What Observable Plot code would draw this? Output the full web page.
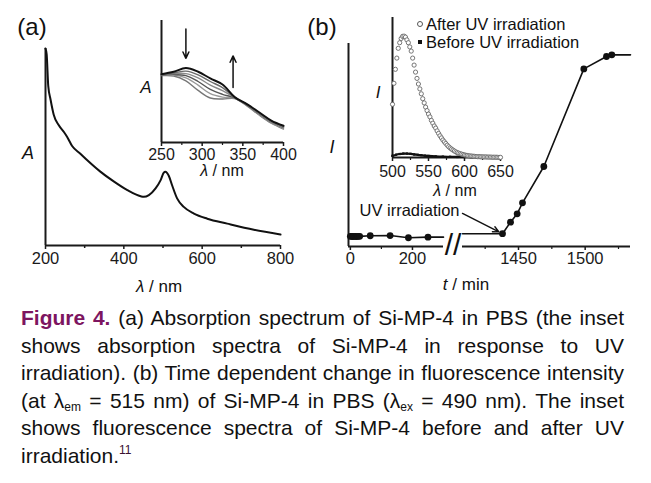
<!DOCTYPE html>
<html>
<head>
<meta charset="utf-8">
<script src="https://cdn.jsdelivr.net/npm/d3@7"></script>
<script src="https://cdn.jsdelivr.net/npm/@observablehq/plot@0.6"></script>
<style>
  html, body { margin: 0; padding: 0; background: #fff; }
  #root { position: relative; width: 651px; height: 483px; overflow: hidden; background: #fff;
          font-family: "Liberation Sans", Arial, sans-serif; color: #111; }
  .plot { position: absolute; }
  .plot svg { overflow: visible; }
  .lbl { position: absolute; transform: translate(-50%, -50%); white-space: nowrap; line-height: 1; color: #111; }
  .it { font-style: italic; }
  #legend { position: absolute; left: 415px; top: 15px; font-size: 16.5px; line-height: 18px; color: #111; }
  #legend .row { display: flex; align-items: center; white-space: nowrap; }
  .sym-c { display: inline-block; width: 4px; height: 4px; border: 1px solid #555; border-radius: 50%; margin: 0 3px 0 2px; }
  .sym-s { display: inline-block; width: 4px; height: 4px; background: #111; margin: 0 4px 0 3px; }
  #caption { position: absolute; left: 21px; top: 304px; width: 603px; font-size: 21px; line-height: 27.6px; color: #111; }
  #caption .ln { text-align: justify; text-align-last: justify; white-space: nowrap; }
  #caption .last { text-align: left; }
  #caption .fig { color: #7d1560; font-weight: bold; }
  #caption sub { font-size: 12px; line-height: 0; vertical-align: -3px; }
  #caption sup { font-size: 12px; line-height: 0; vertical-align: 9px; color: #3a1030; }
</style>
</head>
<body>
<div id="root">
  <div id="mainA" class="plot" style="left:0px; top:0px;"></div>
  <div id="insetA" class="plot" style="left:140px; top:10px;"></div>
  <div id="mainB" class="plot" style="left:300px; top:0px;"></div>
  <div id="insetB" class="plot" style="left:360px; top:5px;"></div>

  <div class="lbl" style="left:32px; top:27px; font-size:24px;">(a)</div>
  <div class="lbl" style="left:322px; top:27px; font-size:24px;">(b)</div>
  <div class="lbl it" style="left:28px; top:153px; font-size:18px;">A</div>
  <div class="lbl it" style="left:146px; top:87px; font-size:17px;">A</div>
  <div class="lbl" style="left:159px; top:286px; font-size:17px;"><span class="it">λ</span> / nm</div>
  <div class="lbl" style="left:222px; top:171px; font-size:16px;"><span class="it">λ</span> / nm</div>
  <div class="lbl it" style="left:332px; top:147px; font-size:18px;">I</div>
  <div class="lbl it" style="left:378px; top:92px; font-size:17px;">I</div>
  <div class="lbl" style="left:455px; top:191px; font-size:16px;"><span class="it">λ</span> / nm</div>
  <div class="lbl" style="left:466px; top:284px; font-size:17px;"><span class="it">t</span> / min</div>

  <div id="legend">
    <div class="row"><span class="sym-c"></span>After UV irradiation</div>
    <div class="row"><span class="sym-s"></span>Before UV irradiation</div>
  </div>

  <div id="caption">
    <div class="ln"><span class="fig">Figure 4.</span> (a) Absorption spectrum of Si-MP-4 in PBS (the inset</div>
    <div class="ln">shows absorption spectra of Si-MP-4 in response to UV</div>
    <div class="ln">irradiation). (b) Time dependent change in fluorescence intensity</div>
    <div class="ln">(at λ<sub>em</sub> = 515 nm) of Si-MP-4 in PBS (λ<sub>ex</sub> = 490 nm). The inset</div>
    <div class="ln">shows fluorescence spectra of Si-MP-4 before and after UV</div>
    <div class="last">irradiation.<sup>11</sup></div>
  </div>
</div>

<script>
// ---------- Panel (a): absorption spectrum ----------
const aWavelength = [200,203,207,213,221,234,247,255,268,289,306,340,375,409,443,451,464,481,494,502,506,515,523,536,553,579,613,664,732,800];
const aAbsorbance = [1.0,0.97,0.81,0.74,0.664,0.61,0.576,0.552,0.505,0.466,0.434,0.375,0.324,0.281,0.25,0.247,0.256,0.29,0.332,0.37,0.375,0.353,0.307,0.239,0.196,0.162,0.136,0.111,0.08,0.056];
const aMajorTicks = [200,400,600,800];
const aMinorTicks = [300,500,700];

// ---------- Inset (a): absorption under UV irradiation ----------
const insetAWavelength = [250,265,280,295,310,325,340,355,370,385,400];
const insetA1 = [0.56,0.58,0.61,0.58,0.525,0.475,0.372,0.315,0.248,0.18,0.137];
const insetA2 = [0.558,0.57,0.585,0.555,0.5,0.45,0.37,0.312,0.244,0.176,0.132];
const insetA3 = [0.556,0.565,0.565,0.53,0.47,0.425,0.368,0.31,0.24,0.172,0.127];
const insetA4 = [0.553,0.558,0.548,0.5,0.435,0.395,0.366,0.307,0.236,0.168,0.122];
const insetA5 = [0.55,0.552,0.53,0.47,0.4,0.372,0.363,0.304,0.231,0.163,0.116];
const insetA6 = [0.548,0.545,0.505,0.427,0.365,0.357,0.36,0.3,0.225,0.158,0.11];
const insetAColors = ["#111","#6a6a6a","#8a8a8a","#555","#999","#777"];
const insetAArrowX = [280, 338];
const insetAArrowFrom = [0.93, 0.45];
const insetAArrowTo = [0.69, 0.71];
const insetAMajorTicks = [250,300,350,400];
const insetAMinorTicks = [275,325,375];

// ---------- Panel (b): fluorescence vs time (broken axis) ----------
const bTimeBefore = [0,4,8,12,16,20,25,30,64,128,187,250];
const bIntBefore  = [0.05,0.05,0.049,0.05,0.05,0.049,0.05,0.05,0.053,0.054,0.043,0.046];
const bTimeAfter  = [1438,1444,1449,1453,1469,1499,1516,1520];
const bIntAfter   = [0.063,0.12,0.161,0.215,0.394,0.875,0.936,0.944];
const bLineEdgeT  = [300, 1408, 1534];     // where the drawn line meets the break / ends
const bLineEdgeI  = [0.046, 0.063, 0.944];
const bAxisDomain = [-6, 300, 1408, 1534]; // broken time axis: two segments
const bAxisRange  = [48, 143, 162, 330];
const bMajorTicks = [0, 200, 1450, 1500];
const bMinorTicks = [100, 1425, 1475, 1525];
const bBreakLabel = "//";
const bUvLabel = "UV irradiation";
const bUvLabelAt = [1408, 0.177];
const bUvArrowFrom = [1408, 0.163];

// ---------- Inset (b): emission spectra ----------
const insetBWlAfter = [500,502,504,506,508,510,512,514,516,518,520,522,524,526,528,530,532,534,536,538,540,542,544,546,548,550,552,554,556,558,560,562,564,566,568,570,572,574,576,578,580,582,584,586,588,590,592,594,596,598,600,602,604,606,608,610,612,614,616,618,620,622,624,626,628,630,632,634,636,638,640,642,644,646,648,650];
const insetBAfter = [0.38,0.53,0.63,0.71,0.78,0.82,0.85,0.865,0.867,0.86,0.84,0.82,0.79,0.76,0.71,0.66,0.61,0.565,0.525,0.49,0.455,0.42,0.39,0.36,0.335,0.31,0.29,0.265,0.245,0.225,0.21,0.19,0.172,0.155,0.14,0.125,0.112,0.1,0.088,0.077,0.068,0.06,0.053,0.046,0.04,0.035,0.031,0.027,0.024,0.021,0.018,0.016,0.014,0.012,0.011,0.01,0.009,0.008,0.007,0.006,0.006,0.005,0.005,0.004,0.004,0.004,0.003,0.003,0.003,0.002,0.002,0.002,0.002,0.001,0.001,0.001];
const insetBWlBefore = [500,505,510,515,520,525,530,535,540,545,550,560,570,580,590,600,610,620,630,640,650];
const insetBBefore = [0.012,0.02,0.025,0.028,0.028,0.026,0.022,0.019,0.016,0.013,0.011,0.008,0.006,0.005,0.004,0.004,0.003,0.003,0.002,0.002,0.002];
const insetBMajorTicks = [500,550,600,650];
const insetBMinorTicks = [525,575,625];

const FONT = "'Liberation Sans', Arial, sans-serif";
const baseStyle = {fontFamily: FONT, fontSize: "16px", color: "#1a1a1a", background: "transparent", overflow: "visible"};
const blank = () => "";
const plain = d => String(d);

// ---- main (a)
const aData = aWavelength.map((w, i) => ({w, a: aAbsorbance[i]}));
document.getElementById("mainA").append(Plot.plot({
  width: 300, height: 300,
  marginLeft: 45, marginRight: 20, marginTop: 48, marginBottom: 55,
  x: {domain: [200, 800], axis: null},
  y: {domain: [0, 1], axis: null},
  style: baseStyle,
  marks: [
    Plot.axisX({ticks: aMajorTicks, tickSize: 4, tickPadding: 3, tickFormat: plain, label: null, fontSize: 16.5, strokeWidth: 1.5}),
    Plot.axisX({ticks: aMinorTicks, tickSize: 3, tickFormat: blank, label: null, strokeWidth: 1.5}),
    Plot.ruleY([0], {strokeWidth: 2}),
    Plot.ruleX([aWavelength[0]], {strokeWidth: 2}),
    Plot.line(aData, {x: "w", y: "a", curve: "monotone-x", strokeWidth: 2, stroke: "#111"})
  ]
}));

// ---- inset (a)
const insetASeries = [insetA6, insetA5, insetA4, insetA3, insetA2, insetA1];
const insetAData = [];
insetASeries.forEach((s, k) => s.forEach((v, i) => insetAData.push({w: insetAWavelength[i], a: v, k: 5 - k})));
const insetArrows = insetAArrowX.map((x, i) => ({x, y1: insetAArrowFrom[i], y2: insetAArrowTo[i]}));
document.getElementById("insetA").append(Plot.plot({
  width: 150, height: 170,
  marginLeft: 21, marginRight: 7, marginTop: 10, marginBottom: 38,
  x: {domain: [250, 400], axis: null},
  y: {domain: [0, 1], axis: null},
  style: baseStyle,
  marks: [
    Plot.axisX({ticks: insetAMajorTicks, tickSize: 4, tickPadding: 2, tickFormat: plain, label: null, fontSize: 16, strokeWidth: 1.5}),
    Plot.axisX({ticks: insetAMinorTicks, tickSize: 3, tickFormat: blank, label: null, strokeWidth: 1.2}),
    Plot.ruleY([0], {strokeWidth: 2}),
    Plot.ruleX([insetAWavelength[0]], {strokeWidth: 2}),
    Plot.line(insetAData, {x: "w", y: "a", z: "k", stroke: d => insetAColors[d.k], strokeWidth: d => d.k === 0 ? 2 : 1.4, curve: "catmull-rom"}),
    Plot.arrow(insetArrows, {x1: "x", x2: "x", y1: "y1", y2: "y2", stroke: "#111", strokeWidth: 1.5, headLength: 7, headAngle: 50})
  ]
}));

// ---- main (b) with broken time axis
const bPoints = [
  ...bTimeBefore.map((t, i) => ({t, v: bIntBefore[i]})),
  ...bTimeAfter.map((t, i) => ({t, v: bIntAfter[i]}))
];
const bLineLeft = [...bTimeBefore.map((t, i) => ({t, v: bIntBefore[i]})), {t: bLineEdgeT[0], v: bLineEdgeI[0]}];
const bLineRight = [{t: bLineEdgeT[1], v: bLineEdgeI[1]}, ...bTimeAfter.map((t, i) => ({t, v: bIntAfter[i]})), {t: bLineEdgeT[2], v: bLineEdgeI[2]}];
const bAxisSegs = [{x1: bAxisDomain[0], x2: bAxisDomain[1]}, {x1: bAxisDomain[2], x2: bAxisDomain[3]}];
const bBreakAt = (bAxisDomain[1] + bAxisDomain[2]) / 2;
const lastBefore = bTimeAfter[0];
document.getElementById("mainB").append(Plot.plot({
  width: 351, height: 300,
  marginLeft: 48, marginRight: 21, marginTop: 43, marginBottom: 54,
  x: {type: "linear", domain: bAxisDomain, range: bAxisRange, axis: null},
  y: {domain: [0, 1], axis: null},
  style: baseStyle,
  marks: [
    Plot.axisX({ticks: bMajorTicks, tickSize: 4, tickPadding: 2, tickFormat: plain, label: null, fontSize: 16.5, strokeWidth: 1.5}),
    Plot.axisX({ticks: bMinorTicks, tickSize: 3, tickFormat: blank, label: null, strokeWidth: 1.2}),
    Plot.ruleY(bAxisSegs, {x1: "x1", x2: "x2", y: 0, strokeWidth: 2}),
    Plot.ruleX([bAxisDomain[0]], {strokeWidth: 2}),
    Plot.text([bBreakLabel], {x: bBreakAt, y: 0, text: d => d, fontSize: 30, lineAnchor: "middle", dy: -1, fill: "#111", fontWeight: "normal"}),
    Plot.line(bLineLeft, {x: "t", y: "v", stroke: "#111", strokeWidth: 1.6}),
    Plot.line(bLineRight, {x: "t", y: "v", stroke: "#111", strokeWidth: 1.6}),
    Plot.dot(bPoints, {x: "t", y: "v", r: 3.4, fill: "#111", stroke: "none"}),
    Plot.text([bUvLabel], {x: bUvLabelAt[0], y: bUvLabelAt[1], text: d => d, textAnchor: "end", dx: -3, fontSize: 16.5, fill: "#111"}),
    Plot.arrow([0], {x1: bUvArrowFrom[0], y1: bUvArrowFrom[1], x2: lastBefore, y2: bIntAfter[0], insetEnd: 4, stroke: "#111", strokeWidth: 1.4, headLength: 7, headAngle: 50})
  ]
}));

// ---- inset (b)
const afterData = insetBWlAfter.map((w, i) => ({w, v: insetBAfter[i]}));
const beforeData = insetBWlBefore.map((w, i) => ({w, v: insetBBefore[i]}));
document.getElementById("insetB").append(Plot.plot({
  width: 160, height: 195,
  marginLeft: 32, marginRight: 20, marginTop: 12, marginBottom: 43,
  x: {domain: [500, 650], axis: null},
  y: {domain: [0, 1], axis: null},
  style: baseStyle,
  marks: [
    Plot.axisX({ticks: insetBMajorTicks, tickSize: 4, tickPadding: 4, tickFormat: plain, label: null, fontSize: 16, strokeWidth: 1.5}),
    Plot.axisX({ticks: insetBMinorTicks, tickSize: 3, tickFormat: blank, label: null, strokeWidth: 1.2}),
    Plot.ruleY([0], {strokeWidth: 2}),
    Plot.ruleX([insetBWlAfter[0]], {strokeWidth: 2}),
    Plot.line(beforeData, {x: "w", y: "v", stroke: "#111", strokeWidth: 2.2, curve: "catmull-rom"}),
    Plot.dot(beforeData, {x: "w", y: "v", symbol: "square", r: 1.3, fill: "#111"}),
    Plot.dot(afterData, {x: "w", y: "v", r: 2.1, stroke: "#666", strokeWidth: 0.9, fill: "white"})
  ]
}));
</script>
</body>
</html>
